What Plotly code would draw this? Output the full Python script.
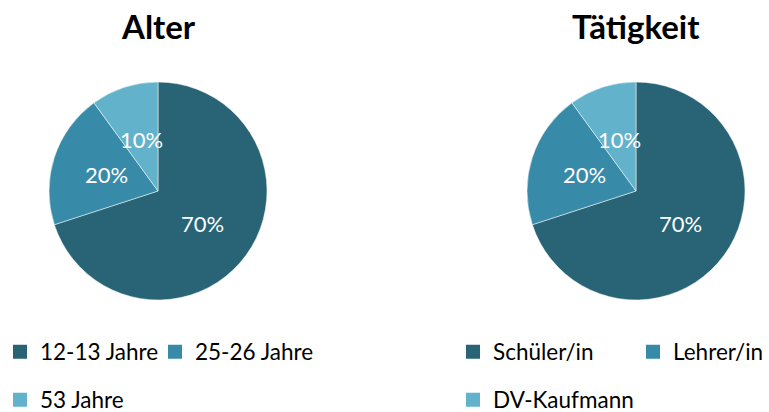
import math
import plotly.graph_objects as go

W, H = 769, 412

# Data
age_labels = ["12-13 Jahre", "25-26 Jahre", "53 Jahre"]
age_values = [70, 20, 10]
job_labels = ["Schüler/in", "Lehrer/in", "DV-Kaufmann"]
job_values = [70, 20, 10]
slice_colors = ["#286476", "#378BA9", "#62B2CB"]

FONT = "Lato"
R = 109          # pie radius in px
CY = 191         # pie centre row in px
PIES = [("Alter", age_labels, age_values, 158), ("Tätigkeit", job_labels, job_values, 636)]

# Legend swatch anchor (px) for each entry, in slice order per pie
LEGEND_SLOTS = [
    [(0, 352), (155, 352), (0, 400)],
    [(453, 352), (633, 352), (453, 400)],
]


def px_x(x):
    return x / W


def px_y(y):
    return 1 - y / H


def pie(labels, values, cx):
    return go.Pie(
        labels=labels,
        values=values,
        sort=False,
        direction="clockwise",
        rotation=0,
        marker=dict(colors=slice_colors, line=dict(color="white", width=0.5)),
        textinfo="none",
        showlegend=False,
        domain=dict(x=[px_x(cx - R), px_x(cx + R)], y=[px_y(CY + R), px_y(CY - R)]),
        hoverinfo="label+percent",
    )


def slice_labels(values, cx, frac=0.5):
    """Percentage labels placed at half radius on each slice's mid-angle."""
    total = sum(values)
    out, start = [], 0.0
    for v in values:
        mid = (start + v / 2) / total * 2 * math.pi   # clockwise from 12 o'clock
        start += v
        x = cx + frac * R * math.sin(mid)
        y = CY - frac * R * math.cos(mid)
        out.append(dict(
            text=f"{v / total:.0%}", x=px_x(x), y=px_y(y), xref="paper", yref="paper",
            xanchor="center", yanchor="middle", showarrow=False,
            font=dict(size=22, family=FONT, color="white"),
        ))
    return out


fig = go.Figure()
annotations = []
for title, labels, values, cx in PIES:
    fig.add_trace(pie(labels, values, cx))
    annotations += slice_labels(values, cx)
    annotations.append(dict(
        text=f"<b>{title}</b>", x=px_x(cx), y=px_y(26), xref="paper", yref="paper",
        xanchor="center", yanchor="middle", showarrow=False,
        font=dict(size=33, family=FONT, color="#000000"),
    ))

# One legend per entry so every swatch can sit at its own spot
legends = {}
n = 0
for (_, labels, _, _), slots in zip(PIES, LEGEND_SLOTS):
    for lab, col, (lx, ly) in zip(labels, slice_colors, slots):
        n += 1
        key = "legend" if n == 1 else f"legend{n}"
        fig.add_trace(go.Scatter(
            x=[None], y=[None], mode="markers", name=lab,
            marker=dict(symbol="square", size=14, color=col),
            legend=key, hoverinfo="skip",
        ))
        legends[key] = dict(
            x=px_x(lx), y=px_y(ly), orientation="h",
            xanchor="left", yanchor="middle", xref="container", yref="container",
            font=dict(size=22.5, family=FONT, color="#000000"),
            bgcolor="rgba(0,0,0,0)", itemwidth=30,
            itemclick=False, itemdoubleclick=False,
        )

fig.update_layout(
    width=W, height=H,
    margin=dict(l=0, r=0, t=0, b=0, autoexpand=False),
    paper_bgcolor="white", plot_bgcolor="white",
    xaxis=dict(visible=False), yaxis=dict(visible=False),
    annotations=annotations,
    **legends,
)

fig.write_html("out.html")
